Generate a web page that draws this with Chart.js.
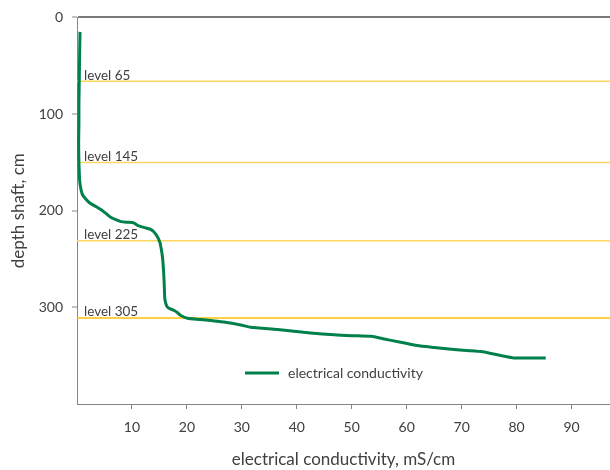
<!DOCTYPE html>
<html>
<head>
<meta charset="utf-8">
<script src="https://cdn.jsdelivr.net/npm/chart.js@4.4.1/dist/chart.umd.min.js"></script>
<style>
  html, body { margin: 0; padding: 0; background: #ffffff; }
  #wrap { width: 610px; height: 470px; }
</style>
</head>
<body>
<div id="wrap"><canvas id="ecChart" width="610" height="470"></canvas></div>
<script>
// --- data read from the profile (conductivity in mS/cm, depth in cm) ---
const conductivity = [0.55, 0.5, 0.45, 0.4, 0.35, 0.35, 0.3, 0.35, 0.5, 0.8, 1.1, 2.2, 3.5, 4.4, 5.3, 6.2, 7.2, 8.0, 9.0, 10.2,
  11.1, 12.3, 13.5, 14.4, 15.1, 15.4, 15.6, 15.8, 15.9, 16.0, 16.5, 17.6, 18.2, 18.9, 20.1, 22.5, 24.4, 27.0, 29.8, 31.6,
  36.5, 42.5, 46.8, 50.0, 53.5, 55.9, 58.9, 61.9, 65.0, 68.6, 73.5, 77.1, 79.5, 83.1, 85.3];
const depth = [15, 30, 50, 70, 90, 110, 130, 150, 170, 180, 184.5, 191.5, 196, 199, 203, 207, 209.5, 211.3, 212, 212.4,
  215.5, 217.5, 219.6, 224.7, 233, 242, 250.5, 267, 280, 291.8, 300, 303, 305, 308.5, 311.3, 312.5, 313.7, 315.5, 318.2, 320.6,
  323, 326.5, 328.4, 329.3, 330, 332.7, 336.1, 339.5, 341.5, 343.6, 345.7, 349.8, 352.3, 352.3, 352.3];

// horizontal sampling levels
const levelDepths = [66, 150, 231, 311];
const levelLabels = ['level 65', 'level 145', 'level 225', 'level 305'];
const levelColors = ['#FFD75E', '#FFD75E', '#FFD75E', '#FFC000'];

const seriesName = 'electrical conductivity';
const xTitle = 'electrical conductivity, mS/cm';
const yTitle = 'depth shaft, cm';
const xMax = 97;
const yMax = 400;

const FONT = "Lato, 'Open Sans', sans-serif";
const TEXT = '#404040';
const AXIS = '#868686';
const GREEN = '#00804A';

const curve = conductivity.map((c, i) => ({ x: c, y: depth[i] }));

const levelSets = levelDepths.map((d, i) => ({
  label: levelLabels[i],
  data: [{ x: 0, y: d }, { x: xMax, y: d }],
  borderColor: levelColors[i],
  borderWidth: 1.5,
  pointRadius: 0,
  showLine: true
}));

// level captions drawn just above each line
const levelTextPlugin = {
  id: 'levelText',
  afterDatasetsDraw(chart) {
    const { ctx, chartArea, scales } = chart;
    ctx.save();
    ctx.font = '13.5px ' + FONT;
    ctx.fillStyle = TEXT;
    ctx.textAlign = 'left';
    ctx.textBaseline = 'alphabetic';
    levelDepths.forEach((d, i) => {
      const y = scales.y.getPixelForValue(d);
      ctx.fillText(levelLabels[i], chartArea.left + 7, y - 1.5);
    });
    ctx.restore();
  }
};

// legend sits inside the plot, lower middle
const innerLegendPlugin = {
  id: 'innerLegend',
  afterDraw(chart) {
    const { ctx, chartArea } = chart;
    const x0 = chartArea.left + 168;
    const y0 = chartArea.bottom - 31;
    ctx.save();
    ctx.strokeStyle = GREEN;
    ctx.lineWidth = 3;
    ctx.beginPath();
    ctx.moveTo(x0, y0);
    ctx.lineTo(x0 + 34, y0);
    ctx.stroke();
    ctx.font = '14px ' + FONT;
    ctx.fillStyle = TEXT;
    ctx.textBaseline = 'middle';
    ctx.fillText(seriesName, x0 + 43, y0);
    ctx.restore();
  }
};

new Chart(document.getElementById('ecChart'), {
  type: 'scatter',
  data: {
    datasets: [{
      label: seriesName,
      data: curve,
      borderColor: GREEN,
      backgroundColor: GREEN,
      borderWidth: 3,
      pointRadius: 0,
      showLine: true,
      tension: 0.2
    }].concat(levelSets)
  },
  options: {
    responsive: false,
    animation: false,
    devicePixelRatio: 1,
    layout: { padding: { top: 14, right: 0, left: 0, bottom: 0 } },
    plugins: {
      legend: { display: false },
      tooltip: { enabled: false }
    },
    scales: {
      x: {
        type: 'linear',
        position: 'bottom',
        min: 0,
        max: xMax,
        afterFit: (s) => { s.height = 66; },
        ticks: {
          stepSize: 10,
          includeBounds: false,
          padding: 10,
          color: TEXT,
          font: { family: FONT, size: 14 },
          callback: (v) => (v === 0 ? '' : v)
        },
        grid: {
          drawOnChartArea: false,
          tickLength: 5,
          tickWidth: 1,
          tickColor: (c) => (c.tick && c.tick.value === 0 ? 'rgba(0,0,0,0)' : AXIS)
        },
        border: { color: AXIS, width: 1 },
        title: {
          display: true,
          text: xTitle,
          color: TEXT,
          font: { family: FONT, size: 17 },
          padding: { top: 0, bottom: 0 }
        }
      },
      y: {
        type: 'linear',
        position: 'left',
        reverse: true,
        min: 0,
        max: yMax,
        afterFit: (s) => { s.width = 77; },
        ticks: {
          stepSize: 100,
          padding: 9,
          color: TEXT,
          font: { family: FONT, size: 14 },
          callback: (v) => (v === yMax ? '' : v)
        },
        grid: {
          color: (c) => (c.tick && c.tick.value === 0 ? '#7a7a7a' : 'rgba(0,0,0,0)'),
          lineWidth: 2,
          tickLength: 5,
          tickWidth: 1,
          tickColor: (c) => (c.tick && c.tick.value === yMax ? 'rgba(0,0,0,0)' : AXIS)
        },
        border: { color: AXIS, width: 1 },
        title: {
          display: true,
          text: yTitle,
          color: TEXT,
          font: { family: FONT, size: 17 },
          padding: { top: 8, bottom: 0 }
        }
      }
    }
  },
  plugins: [levelTextPlugin, innerLegendPlugin]
});
</script>
</body>
</html>
